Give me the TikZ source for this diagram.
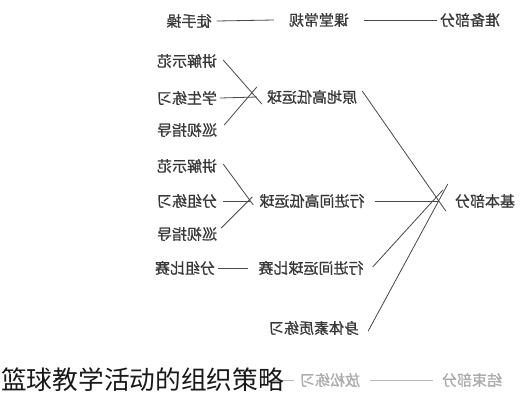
\documentclass[tikz,border=0pt]{standalone}
\usepackage{fontspec}
\newfontfamily\cjk{Noto Sans CJK SC}
\newfontfamily\cjkb[FakeBold=0.8]{Noto Sans CJK SC}
\newcommand{\mirr}[1]{\reflectbox{#1}}
\begin{document}
\begin{tikzpicture}[x=1pt,y=-1pt,
  lbl/.style={inner sep=0pt, font=\cjkb\fontsize{15}{15}\selectfont, text=black!78},
  faint/.style={lbl, text=black!33},
  conn/.style={draw=black!72, line width=0.8pt},
  fconn/.style={draw=black!28, line width=0.8pt}]
\fill[white] (0,0) rectangle (521,400);
\useasboundingbox (0,0) rectangle (521,400);
% nodes
\node[lbl] (zbbf) at (470,20) {\mirr{准备部分}};
\node[lbl] (ktcg) at (319,20) {\mirr{课堂常规}};
\node[lbl] (tsc) at (189,21) {\mirr{徒手操}};
\node[lbl] (ydgd) at (312,97) {\mirr{原地高低运球}};
\node[lbl] (jjsf1) at (187,61) {\mirr{讲解示范}};
\node[lbl] (xslx) at (187,98) {\mirr{学生练习}};
\node[lbl] (xszd1) at (187,130) {\mirr{巡视指导}};
\node[lbl] (jbbf) at (485,201) {\mirr{基本部分}};
\node[lbl] (xjjgd) at (312,201) {\mirr{行进间高低运球}};
\node[lbl] (jjsf2) at (187,166) {\mirr{讲解示范}};
\node[lbl] (fzlx) at (187,201) {\mirr{分组练习}};
\node[lbl] (xszd2) at (187,234) {\mirr{巡视指导}};
\node[lbl] (xjjys) at (311,268) {\mirr{行进间运球比赛}};
\node[lbl] (fzbs) at (185,268) {\mirr{分组比赛}};
\node[lbl] (stsz) at (314,328) {\mirr{身体素质练习}};
\node[faint] (jsbf) at (472,380) {\mirr{结束部分}};
\node[faint] (fslx) at (330,380) {\mirr{放松练习}};
\coordinate (fend) at (272,380);
% connectors
\draw[conn] ([xshift=-3pt]zbbf.west) -- ([xshift=15pt]ktcg.east);
\draw[conn] ([xshift=-15pt]ktcg.west) -- ([xshift=5pt]tsc.east);
\draw[conn] ([xshift=5pt,yshift=6pt]ydgd.east) -- ([xshift=-9pt,yshift=-10pt]jbbf.west);
\draw[conn] ([xshift=10pt]xjjgd.east) -- ([xshift=-17pt]jbbf.west);
\draw[conn] ([xshift=-12pt,yshift=11pt]jbbf.west) -- ([xshift=9pt,yshift=1pt]xjjys.east);
\draw[conn] ([xshift=-7pt,yshift=17pt]jbbf.west) -- ([xshift=9pt,yshift=-3pt]stsz.east);
\draw[conn] ([xshift=-5pt,yshift=-7pt]ydgd.west) -- ([xshift=6pt,yshift=1pt]jjsf1.east);
\draw[conn] ([xshift=-10pt]ydgd.west) -- ([xshift=3pt]xslx.east);
\draw[conn] ([xshift=-10pt,yshift=10pt]ydgd.west) -- ([xshift=7pt,yshift=5pt]xszd1.east);
\draw[conn] ([xshift=-6pt,yshift=-4pt]xjjgd.west) -- ([xshift=6pt,yshift=2pt]jjsf2.east);
\draw[conn] ([xshift=-9pt]xjjgd.west) -- ([xshift=6pt]fzlx.east);
\draw[conn] ([xshift=-7pt,yshift=4pt]xjjgd.west) -- ([xshift=4pt,yshift=6pt]xszd2.east);
\draw[conn] ([xshift=-10pt]xjjys.west) -- ([xshift=3pt]fzbs.east);
\draw[fconn] ([xshift=-9pt]jsbf.west) -- ([xshift=10pt]fslx.east);
\draw[fconn] ([xshift=-6pt]fslx.west) -- (fend);
% caption
\node[inner sep=0pt, anchor=west, font=\cjk\fontsize{25.7}{26}\selectfont, text=black!90] (cap) at (1,380) {篮球教学活动的组织策略};
\end{tikzpicture}
\end{document}
